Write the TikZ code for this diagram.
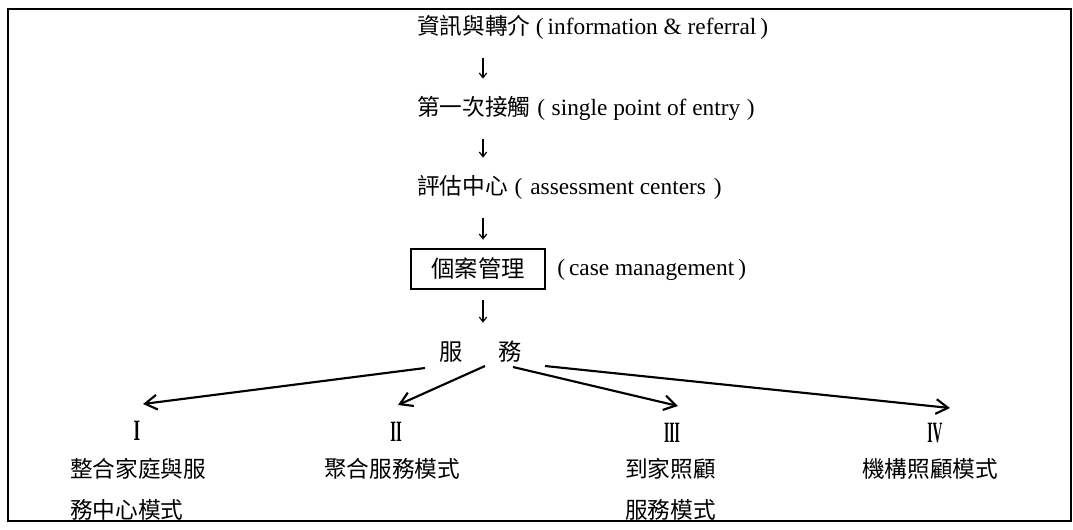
\documentclass[tikz,border=0pt]{standalone}
\usepackage{fontspec}
\usepackage{graphicx}
\setmainfont{Liberation Serif}
\newfontfamily\cjk{Noto Sans CJK TC}
\usetikzlibrary{arrows.meta,calc}
\newcommand{\cj}[1]{{\cjk\fontsize{17}{20}\selectfont #1}}
\begin{document}
\begin{tikzpicture}[x=0.75pt,y=-0.75pt,
  txt/.style={inner sep=0pt, anchor=west, font=\fontsize{17.5}{20}\selectfont},
  numeral/.style={inner sep=0pt, font=\bfseries\fontsize{17}{20}\selectfont},
  lbl/.style={inner sep=0pt, anchor=north west, align=left, font=\cjk\fontsize{17}{30.75}\selectfont},
  darrow/.style={line width=0.9pt, -{Straight Barb[length=3.5pt,width=5.5pt]}, shorten <=23pt, shorten >=22pt},
  barrow/.style={line width=1.6pt, -{Straight Barb[length=9pt,width=11pt]}},
  cbox/.style={draw, line width=1.3pt, inner sep=0pt, minimum width=100.5pt, minimum height=30pt, font=\cjk\fontsize{17.5}{20}\selectfont}
]
\path[use as bounding box] (0,0) rectangle (1073,529);
\draw[line width=1.5pt] (8,9) rectangle (1071,521);

% main column
\node[txt] (l1) at (417,27) {\cj{資訊與轉介}\hspace{4pt}(\hspace{3pt}information \& referral\hspace{3pt})};
\node[txt] (l2) at (417,108) {\cj{第一次接觸}\hspace{5pt}(\hspace{5pt}single point of entry\hspace{5pt})};
\node[txt] (l3) at (417,187) {\cj{評估中心}\hspace{5pt}(\hspace{6pt}assessment centers\hspace{6pt})};
\node[cbox] (cm) at (478,269) {個案管理};
\node[txt] (cme) at (557,270) {(\hspace{3pt}case management\hspace{3pt})};
\node[inner sep=0pt, font=\cjk\fontsize{17.5}{20}\selectfont] (fw) at (481,352) {服\hspace{27pt}務};

\coordinate (ax) at (483,0);
\draw[darrow] (l1.center -| ax) -- (l2.center -| ax);
\draw[darrow] (l2.center -| ax) -- (l3.center -| ax);
\draw[darrow] (l3.center -| ax) -- (cm.center -| ax);
\draw[darrow] (cm.center -| ax) -- (fw.center -| ax);

% branches
\coordinate (s1) at (425,368);
\coordinate (s2) at (485,366);
\coordinate (s3) at (513,367);
\coordinate (s4) at (545,366);
\coordinate (t1) at (143,404);
\coordinate (t2) at (398,405);
\coordinate (t3) at (678,406);
\coordinate (t4) at (950,408);
\draw[barrow] (s1) -- (t1);
\draw[barrow] (s2) -- (t2);
\draw[barrow] (s3) -- (t3);
\draw[barrow] (s4) -- (t4);

\node[numeral] (n1) at (137,431) {\scalebox{0.75}[1.3]{I}};
\node[numeral] (n2) at (396,432) {\scalebox{0.65}[1.3]{II}};
\node[numeral] (n3) at (672,433) {\scalebox{0.6}[1.3]{III}};
\node[numeral] (n4) at (935,433) {\scalebox{0.6}[1.3]{IV}};

\node[lbl] (m1) at (70,458) {整合家庭與服\\務中心模式};
\node[lbl] (m2) at (324,458) {聚合服務模式};
\node[lbl] (m3) at (625,458) {到家照顧\\服務模式};
\node[lbl] (m4) at (862,458) {機構照顧模式};
\end{tikzpicture}
\end{document}
